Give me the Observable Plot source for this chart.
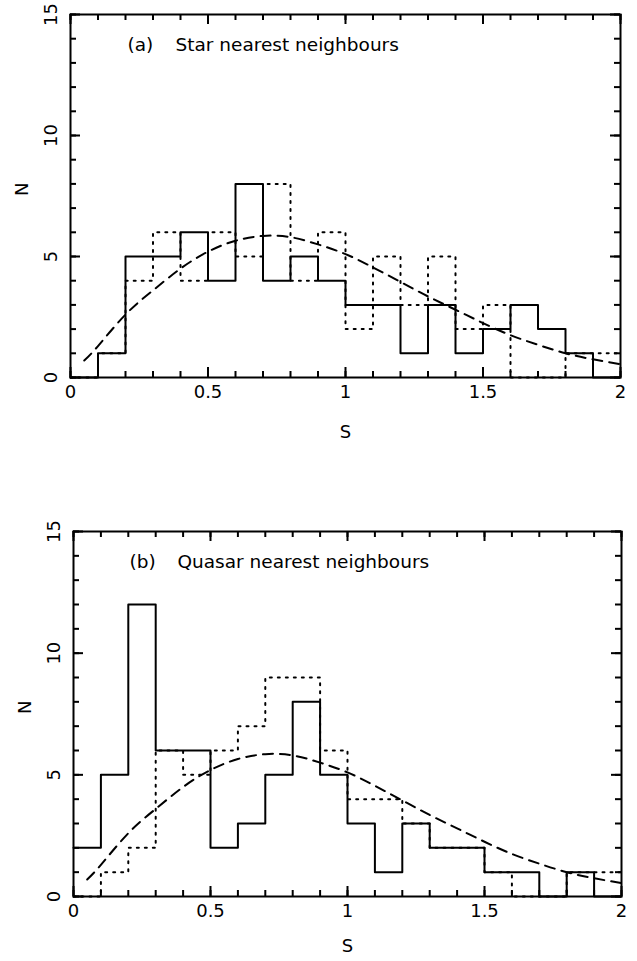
<!DOCTYPE html>
<html>
<head>
<meta charset="utf-8">
<script src="https://cdn.jsdelivr.net/npm/d3@7"></script>
<script src="https://cdn.jsdelivr.net/npm/@observablehq/plot@0.6"></script>
<style>
  body { margin: 0; background: #fff; }
  #chart { width: 637px; }
  #chart svg { display: block; }
</style>
</head>
<body>
<div id="chart"></div>
<script>
// Lower edges of the 0.1-wide bins in S
const binEdges = [0, 0.1, 0.2, 0.3, 0.4, 0.5, 0.6, 0.7, 0.8, 0.9, 1.0, 1.1, 1.2, 1.3, 1.4, 1.5, 1.6, 1.7, 1.8, 1.9];
const binEnd = 2.0;

// (a) Star nearest neighbours
const starSolid  = [0, 1, 5, 5, 6, 4, 8, 4, 5, 4, 3, 3, 1, 3, 1, 2, 3, 2, 1, 0];
const starDotted = [0, 1, 4, 6, 4, 6, 5, 8, 4, 6, 2, 5, 3, 5, 2, 3, 0, 0, 1, 1];

// (b) Quasar nearest neighbours
const quasarSolid  = [2, 5, 12, 6, 6, 2, 3, 5, 8, 5, 3, 1, 3, 2, 2, 1, 1, 0, 1, 0];
const quasarDotted = [0, 1, 2, 6, 5, 6, 7, 9, 9, 6, 4, 4, 3, 2, 2, 1, 0, 0, 1, 1];

// Dashed expected curve
const curveS = [0.05, 0.1, 0.2, 0.3, 0.4, 0.5, 0.6, 0.7, 0.8, 0.9, 1.0, 1.1, 1.2, 1.3, 1.4, 1.5, 1.6, 1.7, 1.8, 1.9, 2.0];
const curveN = [0.7, 1.3, 2.6, 3.6, 4.5, 5.2, 5.65, 5.85, 5.8, 5.5, 5.1, 4.55, 3.95, 3.35, 2.8, 2.25, 1.75, 1.35, 1.0, 0.75, 0.55];

// Tick values and labels
const xMajor = [0, 0.5, 1, 1.5, 2];
const xMajorLabels = ["0", "0.5", "1", "1.5", "2"];
const xMinor = [0, 0.1, 0.2, 0.3, 0.4, 0.5, 0.6, 0.7, 0.8, 0.9, 1.0, 1.1, 1.2, 1.3, 1.4, 1.5, 1.6, 1.7, 1.8, 1.9, 2.0];
const yMajor = [0, 5, 10, 15];
const yMajorLabels = ["0", "5", "10", "15"];
const yMinor = [0, 1, 2, 3, 4, 5, 6, 7, 8, 9, 10, 11, 12, 13, 14, 15];

const panelLabels = ["(a)", "(b)"];
const panelTitles = ["Star nearest neighbours", "Quasar nearest neighbours"];
const xLabel = "S";
const yLabel = "N";

const FONT = "DejaVu Sans";
const MINOR = 6, MAJOR = 10;

function steps(vals) {
  const pts = binEdges.map((x, i) => ({x, n: vals[i]}));
  pts.push({x: binEnd, n: vals[vals.length - 1]});
  return pts;
}

// inward ticks on all four sides of the frame
function inwardTicks(innerW, innerH, xs, ys, len) {
  const o = {stroke: "black", strokeWidth: 2};
  return [
    Plot.ruleX(xs, {x: d => d, insetTop: innerH - len, ...o}),
    Plot.ruleX(xs, {x: d => d, insetBottom: innerH - len, ...o}),
    Plot.ruleY(ys, {y: d => d, insetRight: innerW - len, ...o}),
    Plot.ruleY(ys, {y: d => d, insetLeft: innerW - len, ...o})
  ];
}

function panel({solid, dotted, label, title, height, marginTop, marginBottom, marginLeft, marginRight, sDy, titleDx}) {
  const curve = curveS.map((s, i) => ({s, n: curveN[i]}));
  const innerW = 637 - marginLeft - marginRight;
  const innerH = height - marginTop - marginBottom;
  const sw = 2;
  return Plot.plot({
    width: 637,
    height,
    marginTop, marginBottom, marginLeft, marginRight,
    x: {domain: [0, 2]},
    y: {domain: [0, 15]},
    style: {fontFamily: FONT, fontSize: "18px", color: "black", background: "white"},
    marks: [
      Plot.line(steps(dotted), {x: "x", y: "n", curve: "step-after", stroke: "black", strokeWidth: 2, strokeDasharray: "2,6"}),
      Plot.line(steps(solid), {x: "x", y: "n", curve: "step-after", stroke: "black", strokeWidth: sw}),
      Plot.line(curve, {x: "s", y: "n", curve: "natural", stroke: "black", strokeWidth: sw, strokeDasharray: "10,7"}),
      Plot.frame({stroke: "black", strokeWidth: 2}),
      ...inwardTicks(innerW, innerH, xMinor, yMinor, MINOR),
      ...inwardTicks(innerW, innerH, xMajor, yMajor, MAJOR),
      // tick labels
      Plot.axisX({anchor: "bottom", ticks: xMajor, tickSize: 0, tickPadding: 8, tickFormat: (d, i) => xMajorLabels[i], label: null}),
      Plot.axisY({anchor: "left", ticks: yMajor, tickSize: 0, tickPadding: 14, tickRotate: -90, tickFormat: (d, i) => yMajorLabels[i], label: null}),
      // axis titles
      Plot.text([yLabel], {frameAnchor: "left", dx: -48, rotate: -90, lineAnchor: "middle", text: d => d, fontSize: 18}),
      Plot.text([xLabel], {frameAnchor: "bottom", dy: sDy, lineAnchor: "middle", text: d => d, fontSize: 18}),
      // panel title
      Plot.text([label], {frameAnchor: "top-left", dx: titleDx, dy: 31, lineAnchor: "middle", textAnchor: "start", text: d => d, fontSize: 18.5}),
      Plot.text([title], {frameAnchor: "top-left", dx: titleDx + 48, dy: 31, lineAnchor: "middle", textAnchor: "start", text: d => d, fontSize: 18.5})
    ]
  });
}

const chart = document.getElementById("chart");
chart.append(panel({
  solid: starSolid, dotted: starDotted, label: panelLabels[0], title: panelTitles[0],
  height: 470, marginTop: 14, marginBottom: 93, marginLeft: 70, marginRight: 17, sDy: 55, titleDx: 57
}));
chart.append(panel({
  solid: quasarSolid, dotted: quasarDotted, label: panelLabels[1], title: panelTitles[1],
  height: 491, marginTop: 61, marginBottom: 65, marginLeft: 73, marginRight: 16, sDy: 50, titleDx: 56
}));
</script>
</body>
</html>
